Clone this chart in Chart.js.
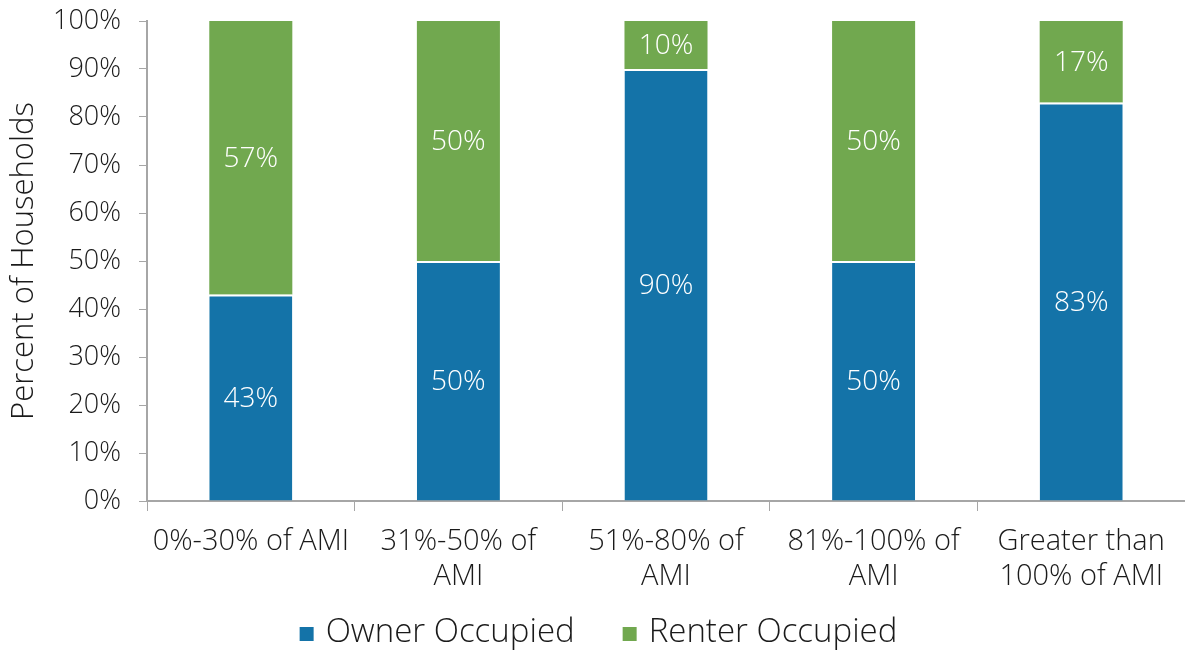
<!DOCTYPE html>
<html>
<head>
<meta charset="utf-8">
<script src="https://cdn.jsdelivr.net/npm/chart.js@4.4.1/dist/chart.umd.min.js"></script>
<style>
  html, body { margin: 0; padding: 0; background: #fff; }
  #wrap { width: 1185px; height: 651px; position: relative; }
</style>
</head>
<body>
<div id="wrap"><canvas id="c"></canvas></div>
<script>
const categories = [
  "0%-30% of AMI",
  ["31%-50% of", "AMI"],
  ["51%-80% of", "AMI"],
  ["81%-100% of", "AMI"],
  ["Greater than", "100% of AMI"]
];
const ownerOccupied = [43, 50, 90, 50, 83];
const renterOccupied = [57, 50, 10, 50, 17];
const yTickValues = [0, 10, 20, 30, 40, 50, 60, 70, 80, 90, 100];

const FONT = "'Open Sans', Lato, sans-serif";
const AXIS = '#a6a6a6';
const TEXT = '#1a1a1a';

// Writes each segment's percentage in white at the middle of its bar piece
const segmentLabels = {
  id: 'segmentLabels',
  afterDatasetsDraw(chart) {
    const ctx = chart.ctx;
    ctx.save();
    ctx.fillStyle = '#ffffff';
    ctx.font = '300 28px ' + FONT;
    ctx.textAlign = 'center';
    ctx.textBaseline = 'middle';
    chart.data.datasets.forEach((ds, di) => {
      const meta = chart.getDatasetMeta(di);
      meta.data.forEach((bar, i) => {
        const v = ds.data[i];
        const yc = (bar.y + bar.base) / 2;
        ctx.fillText(Math.round(v) + '%', bar.x, yc + 1);
      });
    });
    ctx.restore();
  }
};

// Legend row under the axis: a small square per series followed by its name
const bottomLegend = {
  id: 'bottomLegend',
  afterDraw(chart) {
    const ctx = chart.ctx;
    const box = 14, textGap = 12, itemGap = 48, y = 633;
    ctx.save();
    ctx.font = '300 33px ' + FONT;
    ctx.textBaseline = 'middle';
    const items = chart.data.datasets.map(ds => ({
      label: ds.label,
      color: ds.backgroundColor,
      w: box + textGap + ctx.measureText(ds.label).width
    }));
    const total = items.reduce((s, it) => s + it.w, 0) + itemGap * (items.length - 1);
    let x = (chart.width - total) / 2 + 6;
    items.forEach(it => {
      ctx.fillStyle = it.color;
      ctx.fillRect(x, y - box / 2 + 1, box, box);
      ctx.fillStyle = TEXT;
      ctx.textAlign = 'left';
      ctx.fillText(it.label, x + box + textGap, y);
      x += it.w + itemGap;
    });
    ctx.restore();
  }
};

new Chart(document.getElementById('c'), {
  type: 'bar',
  data: {
    labels: categories,
    datasets: [
      {
        label: 'Owner Occupied',
        data: ownerOccupied,
        backgroundColor: '#1473a8',
        borderColor: '#ffffff',
        borderWidth: { top: 2, left: 0, right: 0, bottom: 0 },
        borderSkipped: false,
        barPercentage: 0.4,
        categoryPercentage: 1.0
      },
      {
        label: 'Renter Occupied',
        data: renterOccupied,
        backgroundColor: '#71a84f',
        borderWidth: 0,
        barPercentage: 0.4,
        categoryPercentage: 1.0
      }
    ]
  },
  options: {
    responsive: true,
    maintainAspectRatio: false,
    animation: false,
    layout: { padding: { top: 21, right: 0, left: 4, bottom: 0 } },
    plugins: {
      tooltip: { enabled: false },
      legend: { display: false }
    },
    scales: {
      x: {
        stacked: true,
        afterFit(scale) {
          scale.height = 150;
          scale.paddingLeft = 0;
          scale.paddingRight = 0;
        },
        grid: {
          display: true,
          offset: true,
          drawOnChartArea: false,
          drawTicks: true,
          tickLength: 10,
          color: AXIS
        },
        border: { display: true, color: AXIS, width: 2 },
        ticks: {
          font: { family: FONT, size: 29, weight: '300', lineHeight: 1.22 },
          color: TEXT,
          maxRotation: 0,
          autoSkip: false,
          padding: 13
        }
      },
      y: {
        stacked: true,
        min: 0,
        max: 100,
        afterBuildTicks(scale) {
          scale.ticks = yTickValues.map(v => ({ value: v }));
        },
        afterFit(scale) {
          scale.width = 143;
          scale.paddingTop = 0;
          scale.paddingBottom = 0;
        },
        grid: {
          display: true,
          drawOnChartArea: false,
          drawTicks: true,
          tickLength: 8,
          color: AXIS
        },
        border: { display: true, color: AXIS, width: 2 },
        ticks: {
          font: { family: FONT, size: 27, weight: '300', lineHeight: 1.0 },
          color: TEXT,
          padding: 18,
          callback: v => v + '%'
        },
        title: {
          display: true,
          text: 'Percent of Households',
          font: { family: FONT, size: 31, weight: '300' },
          color: TEXT,
          padding: 2
        }
      }
    }
  },
  plugins: [segmentLabels, bottomLegend]
});
</script>
</body>
</html>
